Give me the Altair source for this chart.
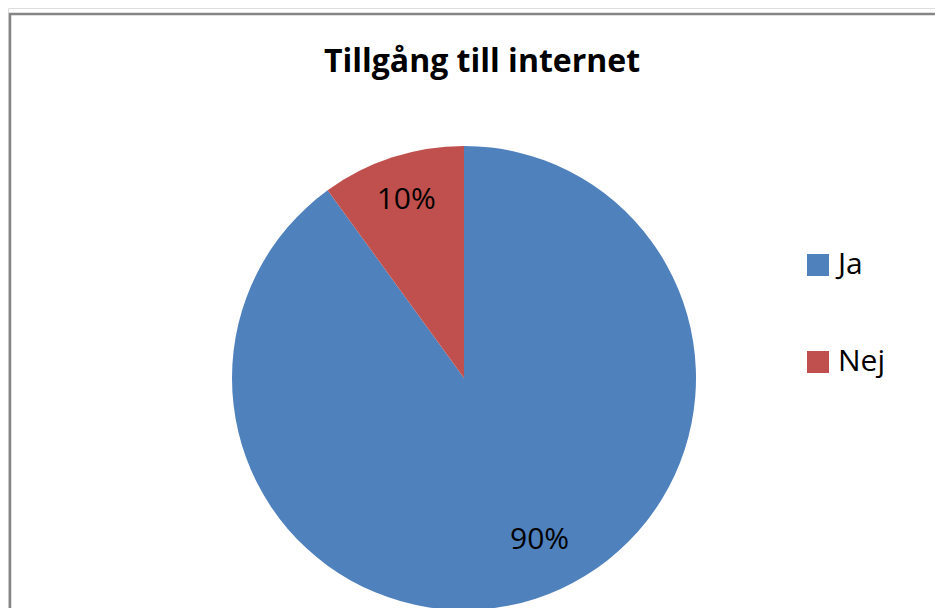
import altair as alt
import pandas as pd

categories = ["Ja", "Nej"]
values = [90, 10]
labels = ["90%", "10%"]
order_idx = [0, 1]
colors = ["#4F81BD", "#C0504D"]
title_text = "Tillgång till internet"

df = pd.DataFrame({"kategori": categories, "andel": values, "etikett": labels, "ordning": order_idx})

FONT = "Open Sans"
cx, cy, R = 456, 370, 232

base = alt.Chart(df)

color_enc = alt.Color(
    "kategori:N",
    scale=alt.Scale(domain=categories, range=colors),
    legend=alt.Legend(
        title=None,
        orient="none",
        legendX=795,
        legendY=242,
        symbolType="square",
        symbolSize=484,
        symbolStrokeWidth=0,
        symbolOpacity=1,
        labelFont=FONT,
        labelFontSize=30,
        labelColor="#000000",
        labelOffset=5,
        rowPadding=67,
        padding=0,
    ),
)

pie = base.mark_arc(stroke=None).encode(
    theta=alt.Theta("andel:Q", stack=True),
    order=alt.Order("ordning:Q", sort="ascending"),
    color=color_enc,
    x=alt.value(cx),
    y=alt.value(cy),
    radius=alt.value(R),
)

labels_nej = base.mark_text(
    font=FONT, fontSize=30, color="#000000", baseline="middle", align="center"
).encode(
    theta=alt.Theta("andel:Q", stack=True),
    order=alt.Order("ordning:Q", sort="ascending"),
    text="etikett:N",
    x=alt.value(cx),
    y=alt.value(cy),
    radius=alt.value(187),
    opacity=alt.condition(alt.datum.kategori == "Nej", alt.value(1), alt.value(0)),
)

labels_ja = base.mark_text(
    font=FONT, fontSize=30, color="#000000", baseline="middle", align="center", dx=23
).encode(
    theta=alt.Theta("andel:Q", stack=True),
    order=alt.Order("ordning:Q", sort="ascending"),
    text="etikett:N",
    x=alt.value(cx),
    y=alt.value(cy),
    radius=alt.value(170),
    opacity=alt.condition(alt.datum.kategori == "Ja", alt.value(1), alt.value(0)),
)

title_df = pd.DataFrame({"t": [title_text]})
title_mark = alt.Chart(title_df).mark_text(
    font=FONT, fontSize=32, fontWeight="bold", color="#000000", baseline="middle", align="center"
).encode(text="t:N", x=alt.value(474), y=alt.value(54))

border = alt.Chart(title_df).mark_rect(
    fill="transparent", stroke="#858585", strokeWidth=2.5
).encode(
    x=alt.value(2), x2=alt.value(960), y=alt.value(6), y2=alt.value(700)
)

chart = alt.layer(border, pie, labels_nej, labels_ja, title_mark).properties(
    width=927,
    height=600,
    autosize=alt.AutoSizeParams(type="none"),
    padding=0,
).configure_view(stroke=None).configure(background="#FFFFFF")

chart.save("out.html", embed_options={"renderer": "svg", "actions": False})
